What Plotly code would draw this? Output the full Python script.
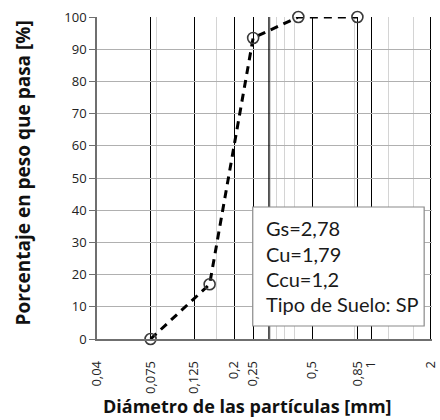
import plotly.graph_objects as go
import math

# Data
diametro = [0.075, 0.15, 0.25, 0.425, 0.85]
pasa = [0, 17, 93.5, 100, 100]

x_ticks = [0.04, 0.075, 0.125, 0.2, 0.25, 0.5, 0.85, 1, 2]
x_ticktext = ["0,04", "0,075", "0,125", "0,2", "0,25", "0,5", "0,85", "1", "2"]
x_minor = [0.08, 0.162, 0.305, 0.327, 0.362, 0.407, 0.82, 1.22, 1.64]
y_ticks = list(range(0, 101, 10))

info_lines = ["Gs=2,78", "Cu=1,79", "Ccu=1,2", "Tipo de Suelo: SP"]

fig = go.Figure()
fig.add_trace(go.Scatter(
    x=diametro, y=pasa, mode="lines+markers",
    line=dict(color="black", width=3, dash="8px,6px"),
    marker=dict(symbol="circle-open", size=11, color="#3a3a3a", line=dict(width=1.6, color="#3a3a3a")),
    showlegend=False, cliponaxis=False,
))

W, H = 440, 420
L, R, T, B = 97, 1, 17, 81
pw, ph = W - L - R, H - T - B

def px(xp):
    return (xp - L) / pw

def py(yp):
    return (H - B - yp) / ph

fig.update_layout(
    width=W, height=H,
    margin=dict(l=L, r=R, t=T, b=B),
    paper_bgcolor="white", plot_bgcolor="white",
    font=dict(family="Liberation Sans", color="#222"),
    xaxis=dict(
        type="log", range=[math.log10(0.04), math.log10(2.04)],
        tickmode="array", tickvals=x_ticks, ticktext=x_ticktext,
        tickangle=-90, tickfont=dict(size=13, family="Open Sans", color="#222"),
        ticklabeloverflow="allow",
        showgrid=True, gridcolor="black", gridwidth=1,
        minor=dict(tickmode="array", tickvals=x_minor, showgrid=True,
                   gridcolor="#d4d4d4", gridwidth=1, ticks=""),
        showline=True, linecolor="#6f6f6f", linewidth=1.5,
        ticks="", ticklabelstandoff=15, zeroline=False,
    ),
    yaxis=dict(
        range=[0, 100], tickmode="array", tickvals=y_ticks,
        tickfont=dict(size=13, family="Open Sans", color="#222"),
        showgrid=True, gridcolor="#b0b0b0", gridwidth=1,
        showline=True, linecolor="#6f6f6f", linewidth=1.5,
        ticks="outside", ticklen=6, tickcolor="#6f6f6f", zeroline=False,
    ),
)

# right-edge major grid line at the last tick value (log axis -> log10 coordinate)
x_last = math.log10(x_ticks[-1])
fig.add_shape(type="line", xref="x", yref="paper", x0=x_last, x1=x_last, y0=0, y1=1,
              line=dict(color="black", width=1.3), layer="above")

fig.add_annotation(xref="paper", yref="paper", x=px(21), y=py(173),
                   text="<b>Porcentaje en peso que pasa [%]</b>", showarrow=False,
                   textangle=-90, xanchor="center", yanchor="middle", borderpad=0,
                   font=dict(size=19, family="Open Sans", color="#111"))

fig.add_annotation(xref="paper", yref="paper", x=px(251), y=py(419),
                   text="<b>Diámetro de las partículas [mm]</b>", showarrow=False,
                   xanchor="center", yanchor="bottom", borderpad=0,
                   font=dict(size=18, family="Open Sans", color="#111"))

fig.add_shape(type="rect", xref="paper", yref="paper",
              x0=px(256), x1=px(431), y0=py(326), y1=py(207),
              line=dict(color="#8a8a8a", width=1.2), fillcolor="white", layer="above")

centers = [228, 253.5, 278.5, 304]
for txt, c in zip(info_lines, centers):
    fig.add_annotation(xref="paper", yref="paper", x=px(267), y=py(c),
                       text=txt, showarrow=False, xanchor="left", yanchor="middle",
                       font=dict(size=20, family="Lato", color="#1a1a1a"))

fig.write_html("out.html")
